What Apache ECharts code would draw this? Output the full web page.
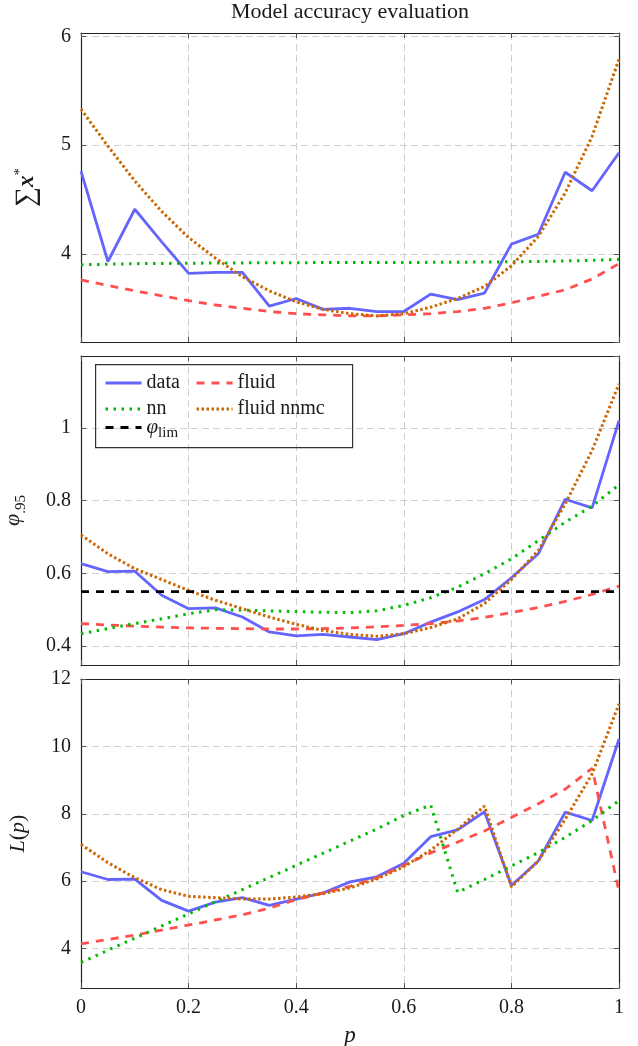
<!DOCTYPE html>
<html>
<head>
<meta charset="utf-8">
<script src="https://cdn.jsdelivr.net/npm/echarts@6/dist/echarts.min.js"></script>
<style>
  html, body { margin: 0; padding: 0; background: #fff; }
  #chart { width: 638px; height: 1046px; }
</style>
</head>
<body>
<div id="chart"></div>
<script>
// x values (p), shared by all three panels
const p = [0, 0.05, 0.1, 0.15, 0.2, 0.25, 0.3, 0.35, 0.4, 0.45, 0.5, 0.55, 0.6, 0.65, 0.7, 0.75, 0.8, 0.85, 0.9, 0.95, 1];

// panel 1: sum x*
const sumData  = [4.76, 3.93, 4.41, 4.11, 3.82, 3.83, 3.83, 3.52, 3.59, 3.49, 3.50, 3.47, 3.47, 3.63, 3.58, 3.64, 4.09, 4.18, 4.75, 4.58, 4.93];
const sumNn    = [3.90, 3.905, 3.91, 3.912, 3.914, 3.916, 3.917, 3.918, 3.919, 3.92, 3.92, 3.92, 3.921, 3.922, 3.923, 3.925, 3.927, 3.93, 3.935, 3.94, 3.95];
const sumFluid = [3.76, 3.71, 3.66, 3.615, 3.57, 3.53, 3.50, 3.47, 3.45, 3.44, 3.43, 3.43, 3.44, 3.45, 3.47, 3.50, 3.55, 3.61, 3.67, 3.77, 3.91];
const sumNnmc  = [5.33, 4.99, 4.67, 4.39, 4.15, 3.96, 3.79, 3.66, 3.56, 3.49, 3.45, 3.43, 3.45, 3.51, 3.59, 3.70, 3.89, 4.16, 4.56, 5.08, 5.79];

// panel 2: phi .95
const phiData  = [0.627, 0.605, 0.606, 0.540, 0.503, 0.505, 0.480, 0.439, 0.428, 0.432, 0.425, 0.418, 0.434, 0.466, 0.494, 0.528, 0.588, 0.654, 0.804, 0.780, 1.020];
const phiNn    = [0.434, 0.448, 0.462, 0.475, 0.489, 0.500, 0.499, 0.497, 0.495, 0.493, 0.492, 0.497, 0.512, 0.533, 0.562, 0.599, 0.640, 0.690, 0.741, 0.785, 0.844];
const phiFluid = [0.462, 0.458, 0.455, 0.452, 0.450, 0.449, 0.448, 0.447, 0.447, 0.448, 0.450, 0.453, 0.457, 0.462, 0.469, 0.479, 0.492, 0.506, 0.523, 0.542, 0.565];
const phiNnmc  = [0.706, 0.654, 0.613, 0.583, 0.553, 0.526, 0.503, 0.480, 0.460, 0.443, 0.432, 0.427, 0.434, 0.451, 0.475, 0.517, 0.583, 0.663, 0.791, 0.938, 1.121];
const phiLimP  = [0, 1];
const phiLim   = [0.55, 0.55];

// panel 3: L(p)
const lData  = [6.28, 6.05, 6.06, 5.43, 5.11, 5.38, 5.51, 5.28, 5.47, 5.65, 5.98, 6.13, 6.53, 7.32, 7.52, 8.06, 5.87, 6.60, 8.05, 7.80, 10.22];
const lNn    = [3.59, 3.95, 4.31, 4.67, 5.03, 5.39, 5.75, 6.11, 6.47, 6.83, 7.19, 7.55, 7.95, 8.26, 5.67, 6.05, 6.45, 6.85, 7.30, 7.80, 8.39];
const lFluid = [4.14, 4.27, 4.40, 4.55, 4.70, 4.85, 5.00, 5.20, 5.45, 5.65, 5.85, 6.10, 6.47, 6.84, 7.16, 7.49, 7.89, 8.30, 8.73, 9.35, 5.70];
const lNnmc  = [7.09, 6.55, 6.10, 5.75, 5.55, 5.51, 5.47, 5.47, 5.53, 5.63, 5.80, 6.07, 6.43, 6.92, 7.54, 8.23, 5.83, 6.60, 7.84, 9.18, 11.26];

const FONT = 'Liberation Serif';
const INK = '#1a1a1a';
const styles = {
  'data':       { color: '#6464ff', width: 2.8, type: 'solid' },
  'fluid':      { color: '#ff5050', width: 2.8, type: [8, 7] },
  'nn':         { color: '#00bb00', width: 3, type: [2.5, 5.5] },
  'fluid nnmc': { color: '#cc6600', width: 3, type: [2.5, 2.5] },
  'φlim':       { color: '#000000', width: 2.8, type: [8, 7] }
};

function pairs(xs, ys) { return xs.map((x, i) => [x, ys[i]]); }

function line(name, idx, xs, ys) {
  const s = styles[name];
  return {
    name: name, type: 'line', xAxisIndex: idx, yAxisIndex: idx,
    data: pairs(xs, ys), symbol: 'none', silent: true, animation: false,
    lineStyle: { color: s.color, width: s.width, type: s.type },
    itemStyle: { color: s.color }
  };
}

const grids = [33, 356, 679].map(t => ({ left: 81, right: 19, top: t, height: 309, outerBoundsMode: 'none', containLabel: false }));

const gridLine = { show: true, lineStyle: { color: '#cfcfcf', width: 1, type: [7, 4] } };
const tick = { show: true, inside: true, length: 5, lineStyle: { color: '#555', width: 1 } };
const frameLine = { show: true, onZero: false, lineStyle: { color: '#222', width: 1.2 } };
const labelFont = { fontFamily: FONT, fontSize: 20, color: INK };

const xAxes = [];
const yAxes = [];
const yRanges = [[3.19, 6.03, 3], [0.348, 1.198, 4], [2.83, 12.0, 5]];
const yNames = [
  '{s|∑}{x|x}{sup|*}',
  '{i|φ}{sub|.95}',
  '{i|L}{r|(}{i|p}{r|)}'
];
const yNameGaps = [40, 52, 52];
const nameRich = {
  s:   { fontFamily: FONT, fontSize: 28, color: INK },
  x:   { fontFamily: FONT, fontSize: 23, fontWeight: 'bold', fontStyle: 'italic', color: INK },
  sup: { fontFamily: FONT, fontSize: 15, color: INK, verticalAlign: 'top' },
  i:   { fontFamily: FONT, fontSize: 22, fontStyle: 'italic', color: INK },
  r:   { fontFamily: FONT, fontSize: 22, color: INK },
  sub: { fontFamily: FONT, fontSize: 15, color: INK, verticalAlign: 'bottom', lineHeight: 32 }
};

for (let g = 0; g < 3; g++) {
  const last = g === 2;
  xAxes.push({
    type: 'value', gridIndex: g, min: 0, max: 1, interval: 0.2, position: 'bottom',
    axisLine: frameLine, axisTick: tick, splitLine: gridLine,
    axisLabel: last ? Object.assign({ show: true, margin: 10, formatter: v => String(+v.toFixed(1)) }, labelFont) : { show: false },
    name: last ? 'p' : '', nameLocation: 'middle', nameGap: 36,
    nameTextStyle: { fontFamily: FONT, fontSize: 23, fontStyle: 'italic', color: INK }
  });
  const r = yRanges[g];
  yAxes.push({
    type: 'value', gridIndex: g, min: r[0], max: r[1], splitNumber: r[2], position: 'left',
    axisLine: frameLine, axisTick: tick, splitLine: gridLine,
    axisLabel: Object.assign({ margin: 10, showMinLabel: false, showMaxLabel: g === 2 }, labelFont),
    name: yNames[g], nameLocation: 'middle', nameRotate: 90, nameGap: yNameGaps[g],
    nameTextStyle: { rich: nameRich }
  });
}
// mirrored axes on the top and right for the inward ticks
for (let g = 0; g < 3; g++) {
  const r = yRanges[g];
  xAxes.push({
    type: 'value', gridIndex: g, min: 0, max: 1, interval: 0.2, position: 'top',
    axisLine: frameLine, axisTick: tick, splitLine: { show: false }, axisLabel: { show: false }
  });
  yAxes.push({
    type: 'value', gridIndex: g, min: r[0], max: r[1], splitNumber: r[2], position: 'right',
    axisLine: frameLine, axisTick: tick, splitLine: { show: false }, axisLabel: { show: false }
  });
}

const series = [
  line('data', 0, p, sumData), line('fluid', 0, p, sumFluid), line('nn', 0, p, sumNn), line('fluid nnmc', 0, p, sumNnmc),
  line('data', 1, p, phiData), line('fluid', 1, p, phiFluid), line('nn', 1, p, phiNn), line('fluid nnmc', 1, p, phiNnmc),
  line('φlim', 1, phiLimP, phiLim),
  line('data', 2, p, lData), line('fluid', 2, p, lFluid), line('nn', 2, p, lNn), line('fluid nnmc', 2, p, lNnmc)
];

// legend: two columns, three rows, each entry placed on its own
const legendText = {
  fontFamily: FONT, fontSize: 20, color: INK,
  rich: {
    phi: { fontFamily: FONT, fontSize: 21, fontStyle: 'italic', color: INK },
    lim: { fontFamily: FONT, fontSize: 15, color: INK, verticalAlign: 'bottom', lineHeight: 26 }
  }
};
function legendItem(name, left, top) {
  return {
    left: left, top: top, padding: 0, data: [name],
    itemWidth: 36, itemHeight: 12, selectedMode: false, textStyle: legendText,
    itemStyle: { opacity: 0 },
    lineStyle: { width: 3 },
    formatter: n => n === 'φlim' ? '{phi|φ}{lim|lim}' : n
  };
}

var chart = echarts.init(document.getElementById('chart'), null, { renderer: 'canvas' });
chart.setOption({
  backgroundColor: '#fff',
  animation: false,
  title: {
    text: 'Model accuracy evaluation', left: 350, top: 1, padding: 0, textAlign: 'center',
    textStyle: { fontFamily: FONT, fontSize: 22, fontWeight: 'normal', color: INK }
  },
  legend: [
    legendItem('data', 104, 373),
    legendItem('fluid', 195, 373),
    legendItem('nn', 104, 399),
    legendItem('fluid nnmc', 195, 399),
    legendItem('φlim', 104, 417)
  ],
  graphic: [{
    type: 'rect', left: 95, top: 364, z: 10, silent: true,
    shape: { width: 257, height: 83 },
    style: { fill: 'rgba(255,255,255,0)', stroke: '#333', lineWidth: 1.2 }
  }],
  grid: grids,
  xAxis: xAxes,
  yAxis: yAxes,
  series: series
});
</script>
</body>
</html>
